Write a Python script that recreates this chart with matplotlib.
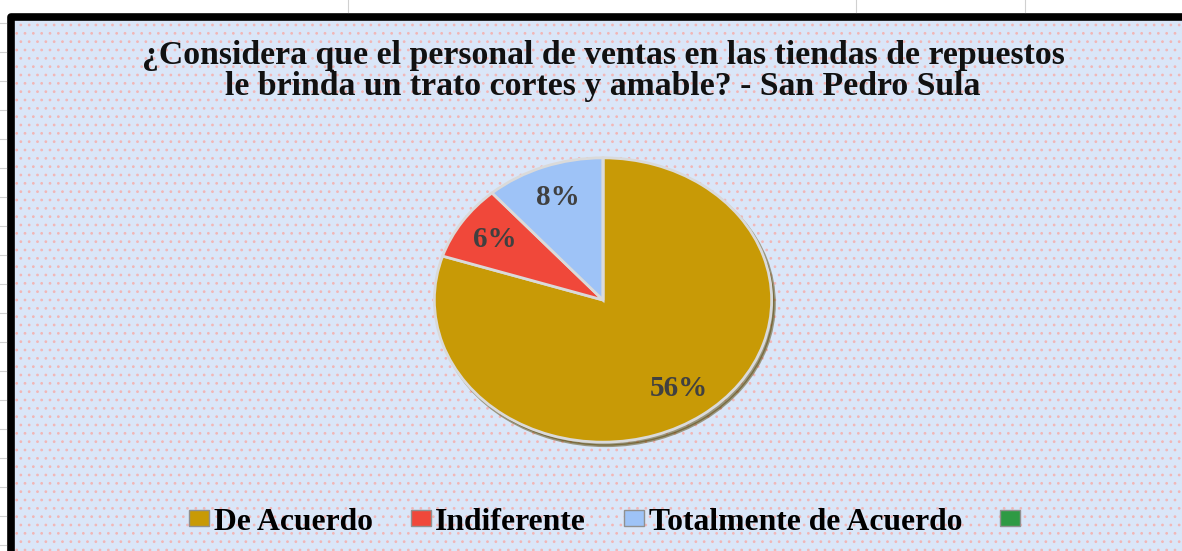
import matplotlib
matplotlib.use("Agg")
import matplotlib.pyplot as plt
from matplotlib.patches import Rectangle
from matplotlib.lines import Line2D

# ---- data ----
categories = ["De Acuerdo", "Indiferente", "Totalmente de Acuerdo", ""]
values = [56, 6, 8, 0]
colors = ["#C89A06", "#F0483A", "#9EC3F7", "#2E9A44"]
title_lines = ["¿Considera que el personal de ventas en las tiendas de repuestos",
               "le brinda un trato cortes y amable? - San Pedro Sula"]

W, H = 1182, 551
plt.rcParams['hatch.linewidth'] = 0.75
fig = plt.figure(figsize=(W / 100, H / 100), dpi=100, facecolor="white")

def fx(px):
    return px / W

def fy(py):
    return 1 - py / H

# faint spreadsheet gridlines in the white margin
for gy in range(23, 551, 29):
    fig.add_artist(Line2D([0, fx(6)], [fy(gy), fy(gy)], color="#d0d0d0", lw=0.8))
for gx in [348, 856, 1025]:
    fig.add_artist(Line2D([fx(gx), fx(gx)], [fy(0), fy(12)], color="#d0d0d0", lw=0.8))

# chart area background with dotted texture
bg = Rectangle((fx(10), -0.05), 1.2, fy(16.5) + 0.05, transform=fig.transFigure,
               facecolor="#DAE6F8", edgecolor="#F2B6B6", hatch="..", lw=0, zorder=0)
fig.add_artist(bg)
border = Rectangle((fx(10.5), -0.05), 1.2, fy(16.5) + 0.05, transform=fig.transFigure,
                   facecolor="none", edgecolor="black", lw=5.5, zorder=1,
                   joinstyle="round")
fig.add_artist(border)

# title (two lines)
for line, base in zip(title_lines, [64, 95]):
    fig.text(fx(603), fy(base), line, ha="center", va="baseline", fontsize=24.3,
             fontweight="bold", family="Liberation Serif", color="#111111", zorder=5)

# pie
cx, cy, rx, ry = 603, 300, 172, 145
ax = fig.add_axes([fx(cx - rx), fy(cy + ry), (2 * rx) / W, (2 * ry) / H])
ax.set_facecolor("none")
total = sum(values)
wedges, texts, autotexts = ax.pie(
    values, colors=colors, startangle=90, counterclock=False,
    autopct=lambda p: f"{p * total / 100:.0f}%" if p > 0 else "",
    pctdistance=0.77,
    shadow=dict(ox=0.012, oy=-0.018, shade=0.55),
    wedgeprops=dict(edgecolor="#DADADA", linewidth=2),
    textprops=dict(fontsize=21, fontweight="bold", family="Liberation Serif",
                   color="#404040"))
ax.set_aspect("auto")
ax.set_xlim(-1.02, 1.02)
ax.set_ylim(-1.02, 1.02)
ax.axis("off")

# legend
leg = fig.legend(wedges, categories, loc="center", bbox_to_anchor=(fx(607), fy(522)),
                 ncol=4, frameon=False, handlelength=0.63, handleheight=0.42,
                 handletextpad=0.15, columnspacing=1.2,
                 prop=dict(family="Liberation Serif", weight="bold", size=22.8))
for h in leg.legend_handles:
    h.set_edgecolor("#909090")
    h.set_linewidth(1)

fig.savefig("out.png", dpi=100, facecolor="white")
